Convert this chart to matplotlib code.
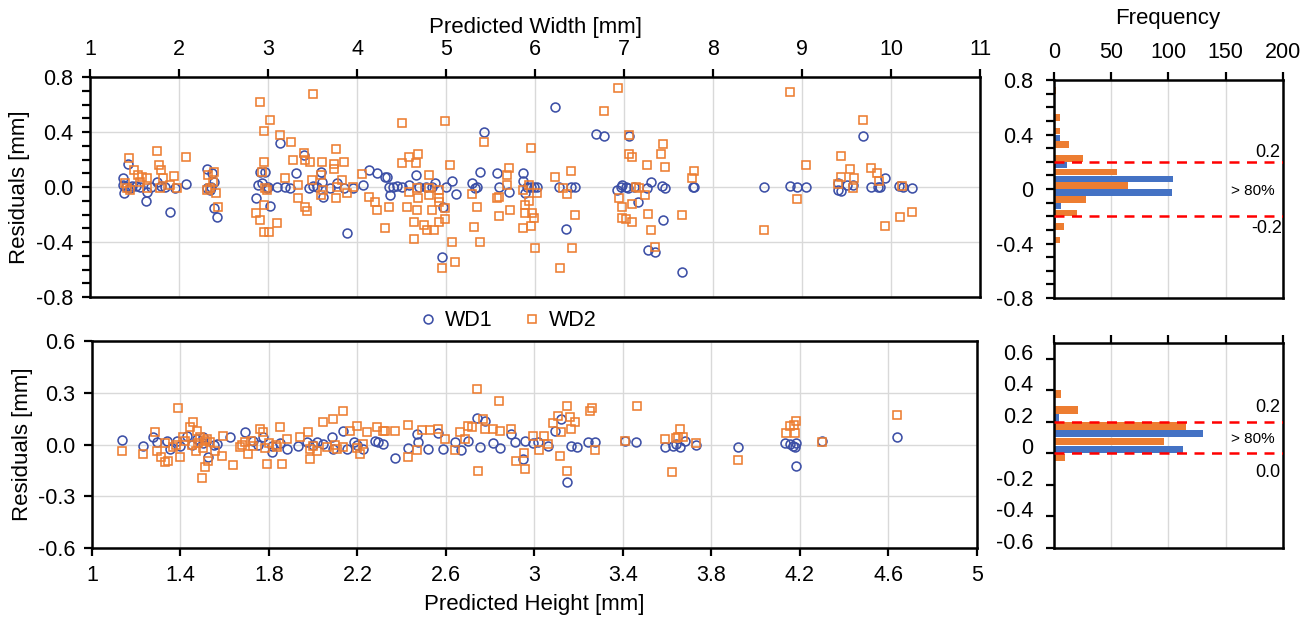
import matplotlib
matplotlib.use("Agg")
import matplotlib.pyplot as plt
from matplotlib.ticker import MultipleLocator
from matplotlib.lines import Line2D
import matplotlib.transforms as mtransforms

plt.rcParams["font.family"] = ["Liberation Sans", "DejaVu Sans"]

BLUE = "#3C4FA6"
ORANGE = "#ED7D31"
HBLUE = "#4472C4"
GRID = "#D9D9D9"

# ---- top panel: residual vs predicted width ----
wd1_w_x = [1.375, 1.386, 1.43, 1.375, 1.45, 1.63, 1.64, 1.56, 1.75, 1.9, 2.08, 1.84, 1.96,
           1.40, 1.47, 1.52, 1.68, 1.80,
           2.32, 2.37, 2.39, 2.31, 2.39, 2.43, 2.35, 2.36,
           3.14, 2.91, 2.97, 2.89, 2.93, 2.87, 3.02, 2.99, 3.1, 3.19, 3.0,
           3.25, 3.32, 3.4, 3.46, 3.59, 3.61, 3.62, 3.7, 3.77, 3.89, 3.85, 3.96, 3.5, 3.55,
           4.13, 4.07, 4.22, 4.32, 4.34, 4.36, 4.51, 4.66, 4.77, 4.88, 5.07, 5.11, 4.97, 4.96,
           4.37, 4.58, 4.84, 4.4, 4.45, 4.7, 5.0,
           5.43, 5.38, 5.29, 5.33, 5.35, 5.57, 5.59, 5.71, 5.86, 5.87, 5.91, 5.99, 6.02, 5.89, 5.95,
           6.23, 6.27, 6.4, 6.45, 6.35,
           6.68, 6.77, 7.06, 6.92, 6.98, 7.02, 7.16, 7.11, 7.26, 7.3, 7.43, 7.46, 7.44, 7.27,
           7.35, 7.65, 6.97, 7.05,
           7.77, 7.79, 8.57, 8.87, 8.94, 9.05, 9.4, 9.44, 9.51, 9.57, 9.69, 9.78, 9.85, 9.88,
           9.93, 10.09, 10.13, 10.24, 9.4]
wd1_w_y = [0.068, -0.046, 0.165, 0.015, -0.01, -0.10, -0.034, 0.0, 0.034, -0.184, 0.024, 0.0, -0.01,
           0.0, 0.01, 0.005, 0.0, 0.01,
           0.131, 0.10, 0.039, -0.01, -0.155, -0.216, -0.022, 0.0,
           0.32, 0.11, 0.11, 0.015, 0.027, -0.078, -0.138, -0.01, 0.0, 0.0, 0.0,
           -0.005, 0.10, 0.233, -0.01, 0.11, 0.039, -0.07, -0.01, 0.027, -0.337, -0.01, -0.005, 0.005, 0.0,
           0.124, 0.015, 0.10, 0.075, 0.075, 0.0, 0.0, 0.087, 0.0, 0.027, 0.044, -0.053, -0.143, -0.507,
           -0.058, 0.015, 0.0, 0.0, 0.01, 0.0, 0.0,
           0.40, 0.11, 0.027, -0.01, 0.0, 0.10, 0.0, -0.034, 0.104, 0.044, 0.0, 0.0, 0.0, -0.046, 0.0,
           0.58, 0.0, 0.0, 0.0, -0.305,
           0.383, 0.371, 0.371, -0.022, 0.015, 0.0, -0.11, 0.0, -0.01, 0.039, 0.007, -0.01, -0.24, -0.458,
           -0.47, -0.616, 0.0, -0.01,
           0.0, 0.0, 0.0, 0.007, 0.0, 0.0, -0.022, -0.027, 0.015, 0.015, 0.373, 0.0, 0.0, 0.0,
           0.063, 0.007, 0.0, -0.005, 0.027]

wd2_w_x = [1.435, 1.49, 1.54, 1.58, 1.64, 1.39, 1.41, 1.45, 1.75, 1.78, 1.8, 1.825, 1.94, 1.9,
           1.79, 1.975, 2.08, 1.64, 1.56,
           2.39, 2.33, 2.38, 2.31, 2.42, 2.44, 2.35,
           2.91, 3.02, 2.95, 3.14, 2.96, 2.93, 2.97, 2.99, 2.87, 2.91, 2.95, 2.96, 3.01, 3.1, 3.26, 3.51,
           3.19, 3.28, 3.4, 3.42, 3.47, 3.34, 3.34, 3.42, 3.44, 3.49, 3.59, 3.61, 3.62, 3.59,
           3.76, 3.74, 3.85, 3.74, 3.83, 3.77, 3.89, 3.76, 3.96, 4.06, 4.13, 4.2, 4.22, 4.36, 4.31,
           4.51, 4.985, 4.5, 4.58, 4.69, 4.66, 4.81, 4.56, 4.67, 4.64, 4.75, 4.79, 4.86, 4.92, 4.99,
           4.64, 4.96, 5.1, 5.07, 4.69, 4.81, 4.92, 4.92, 4.58, 4.67, 5.05, 4.81, 4.92, 4.99, 4.84,
           5.43, 5.35, 5.31, 5.38, 5.29, 5.57, 5.59, 5.72, 5.69, 5.71, 5.69, 5.59,
           5.95, 5.93, 5.86, 5.89, 5.89, 5.97, 5.96, 5.87, 6.0, 5.93, 6.02, 5.99,
           6.23, 6.4, 6.36, 6.45, 6.41, 6.28, 6.31,
           6.93, 6.77, 7.06, 7.06, 7.09, 7.13, 6.94, 6.98, 7.09, 6.98, 7.02, 7.09, 7.26, 7.44, 7.42,
           7.46, 7.27, 7.3, 7.35, 7.24, 7.65, 7.17, 7.79, 7.76,
           8.57, 8.87, 8.94, 9.05, 9.44, 9.54, 9.44, 9.58, 9.4, 9.57, 9.69, 9.78, 9.84, 9.87, 9.93,
           10.1, 10.24, 10.12]
wd2_w_y = [0.213, 0.124, 0.087, 0.075, 0.063, 0.027, -0.01, -0.022, 0.262, 0.16, 0.124, 0.063, 0.082, 0.015,
           -0.01, -0.01, 0.218, -0.01, 0.039,
           0.112, 0.087, 0.039, -0.022, -0.046, -0.143, -0.01,
           0.62, 0.49, 0.41, 0.378, 0.18, 0.11, -0.01, -0.022, -0.19, -0.24, -0.13, -0.325, -0.325, -0.264, 0.33, 0.68,
           0.063, 0.196, 0.245, 0.196, 0.184, 0.015, -0.08, -0.143, -0.175, 0.05, 0.087, 0.18, -0.022, -0.06,
           0.28, 0.17, 0.184, 0.13, 0.05, 0.0, -0.046, -0.08, 0.0, 0.092, -0.07, -0.107, -0.167, -0.143, -0.30,
           0.463, 0.48, 0.177, 0.22, 0.238, 0.177, 0.087, -0.143, -0.167, -0.252, -0.276, -0.313, -0.313, -0.252, -0.233,
           -0.378, -0.59, -0.548, -0.398, -0.082, -0.058, -0.082, -0.022, -0.034, -0.01, 0.16, -0.01, -0.107, -0.155, -0.167,
           0.325, -0.143, -0.293, -0.398, -0.05, -0.082, -0.208, -0.167, 0.087, 0.14, 0.015, -0.07,
           0.286, 0.015, -0.022, -0.13, -0.19, -0.19, -0.28, -0.30, -0.44, -0.10, -0.046, -0.228,
           0.075, 0.12, -0.053, -0.20, -0.44, -0.587, -0.01,
           0.722, 0.553, 0.378, 0.238, 0.22, 0.0, -0.082, -0.143, -0.126, -0.228, -0.233, -0.252, 0.16, 0.31, 0.238,
           0.148, -0.196, -0.313, -0.434, -0.058, -0.20, -0.01, 0.12, 0.068,
           -0.31, 0.693, -0.087, 0.16, 0.228, 0.13, 0.075, 0.068, 0.022, -0.01, 0.487, 0.136, 0.104, 0.044, -0.28,
           -0.216, -0.184, 0.007]

# ---- bottom panel: residual vs predicted height ----
wd1_h_x = [1.134, 1.232, 1.277, 1.292, 1.337, 1.383, 1.352, 1.428, 1.473, 1.503, 1.526, 1.563, 1.624,
           1.692, 1.729, 1.774, 1.812, 1.812, 1.88, 1.932, 1.97, 2.016, 2.046, 2.083, 2.091, 2.136,
           2.152, 2.182, 2.227, 2.28, 2.294, 2.317,
           1.45, 1.5, 1.4, 1.55, 1.75, 1.85, 2.0, 2.2,
           2.369, 2.43, 2.467, 2.475, 2.52, 2.565, 2.588, 2.64, 2.67, 2.7, 2.738, 2.753, 2.776,
           2.813, 2.844, 2.896, 2.911, 2.949, 2.957, 2.994, 3.017, 3.062, 3.092, 3.122, 3.145,
           3.167, 3.19, 3.243, 3.273, 3.408, 3.461, 3.589, 3.627, 3.657, 3.64,
           3.68, 3.73, 3.92, 4.134, 4.154, 4.169, 4.181, 4.184, 4.176, 4.3, 4.639]
wd1_h_y = [0.027, -0.006, 0.046, 0.014, 0.023, 0.023, -0.025, 0.052, 0.033, 0.043, -0.073, 0.004, 0.043,
           0.072, 0.023, 0.043, -0.006, -0.044, -0.025, -0.006, 0.014, 0.014, 0.004, 0.043, -0.025, 0.081,
           -0.025, 0.014, -0.025, 0.023, 0.014, 0.004,
           0.0, 0.01, -0.01, 0.0, 0.0, 0.01, 0.0, 0.0,
           -0.079, -0.019, 0.062, 0.014, -0.025, 0.066, -0.025, 0.014, -0.031, 0.023, 0.155, -0.012, 0.139,
           0.008, -0.019, 0.062, 0.014, -0.083, 0.023, 0.008, 0.014, -0.006, 0.081, 0.149, -0.219,
           -0.006, -0.012, 0.017, 0.014, 0.023, 0.014, -0.012, -0.006, -0.015, 0.004,
           0.019, 0.0, -0.012, 0.008, 0.004, -0.006, 0.008, -0.122, -0.012, 0.019, 0.043]

wd2_h_x = [1.137, 1.232, 1.284, 1.314, 1.329, 1.344, 1.389, 1.292, 1.367, 1.412, 1.397, 1.443, 1.458,
           1.473, 1.488, 1.51, 1.495, 1.51, 1.526, 1.533, 1.556, 1.586, 1.594, 1.639, 1.669, 1.692,
           1.707, 1.729, 1.759, 1.774, 1.789, 1.85, 1.858, 1.835, 1.88, 1.94, 1.978, 1.986, 2.016,
           2.046, 2.061, 2.091, 2.136, 2.167, 2.197, 2.212, 2.242, 2.287, 2.317, 2.136, 2.106, 2.227, 1.986,
           1.45, 1.48, 1.5, 1.42, 1.47, 1.52, 1.38, 1.33, 1.68, 1.72, 1.78, 1.8, 1.83, 2.0, 2.1, 2.2,
           2.324, 2.369, 2.43, 2.43, 2.47, 2.493, 2.527, 2.562, 2.595, 2.64, 2.663, 2.685, 2.7, 2.716,
           2.738, 2.746, 2.768, 2.776, 2.813, 2.84, 2.844, 2.896, 2.916, 2.954, 2.957, 2.991, 3.021,
           3.044, 3.062, 3.085, 3.107, 3.115, 3.122, 3.145, 3.149, 3.16, 3.167, 3.185, 3.25, 3.261,
           3.273, 3.408, 3.464, 3.589, 3.622, 3.649, 3.657, 3.639, 3.672, 3.732, 3.92, 4.139, 4.154,
           4.176, 4.184, 4.173, 4.3, 4.639]
wd2_h_y = [-0.039, -0.054, 0.072, -0.073, -0.103, -0.093, 0.21, -0.035, -0.015, 0.043, -0.073, 0.10, 0.13,
           0.081, 0.043, 0.023, -0.193, -0.131, -0.093, 0.014, -0.035, -0.064, 0.052, -0.118, -0.015, 0.014,
           -0.054, -0.006, 0.091, 0.072, -0.112, 0.10, -0.112, -0.015, 0.033, 0.043, 0.072, -0.083, -0.035,
           0.13, -0.015, 0.149, 0.193, 0.081, 0.11, -0.054, 0.072, 0.10, 0.081, -0.015, -0.025, 0.004, -0.025,
           0.0, 0.01, -0.02, 0.02, -0.04, 0.03, 0.0, 0.01, 0.0, 0.02, -0.02, 0.01, 0.0, -0.01, 0.0, -0.02,
           0.081, 0.081, 0.116, -0.07, -0.031, 0.085, 0.085, 0.091, 0.033, -0.031, 0.072, 0.033, 0.11, 0.10,
           0.323, -0.151, 0.149, 0.091, 0.091, 0.251, 0.081, 0.091, -0.093, -0.05, -0.141, 0.052, -0.031,
           0.052, 0.004, 0.124, 0.168, -0.064, 0.072, -0.151, 0.221, 0.159, 0.091, 0.13, 0.193, 0.213,
           -0.031, 0.023, 0.221, 0.033, -0.161, 0.043, 0.091, 0.039, 0.046, 0.008, -0.087, 0.066, 0.11,
           0.068, 0.139, 0.116, 0.014, 0.174]

# ---- histograms (frequency per residual bin) ----
top_bins = [0.7, 0.6, 0.5, 0.4, 0.3, 0.2, 0.1, 0.0, -0.1, -0.2, -0.3, -0.4, -0.5]
top_wd1 = [0, 0, 0, 5, 0, 11, 104, 103, 6, 2, 1, 1, 0]
top_wd2 = [2, 0, 5, 5, 13, 25, 55, 65, 28, 20, 9, 5, 1]

bot_bins = [0.35, 0.25, 0.15, 0.05, -0.05]
bot_wd1 = [0, 4, 130, 113, 0]
bot_wd2 = [6, 21, 115, 96, 10]

fig = plt.figure(figsize=(13.16, 6.17), dpi=100)
ax_w = fig.add_axes([0.0684, 0.5186, 0.6763, 0.3566])
ax_h = fig.add_axes([0.0699, 0.1118, 0.6725, 0.3355])
hx_w = fig.add_axes([0.8009, 0.5170, 0.1740, 0.3533])
hx_h = fig.add_axes([0.8009, 0.1118, 0.1740, 0.3323])

mk = dict(linestyle="none", markersize=6.4, markeredgewidth=1.15, markerfacecolor="none")
LBL = 16


def style(ax):
    for s in ax.spines.values():
        s.set_linewidth(1.8)
        s.set_color("black")
    ax.tick_params(which="both", direction="out", width=1.6, length=6, labelsize=15.5, pad=6)
    ax.grid(True, color=GRID, linewidth=1.0)
    ax.set_axisbelow(True)


# top scatter
style(ax_w)
ax_w.plot(wd1_w_x, wd1_w_y, marker="o", markeredgecolor=BLUE, **mk)
ax_w.plot(wd2_w_x, wd2_w_y, marker="s", markeredgecolor=ORANGE, **mk)
ax_w.set_xlim(1, 11)
ax_w.set_ylim(-0.8, 0.8)
ax_w.xaxis.set_major_locator(MultipleLocator(1))
ax_w.yaxis.set_minor_locator(MultipleLocator(0.1))
ax_w.xaxis.tick_top()
ax_w.set_yticks([0.8, 0.4, 0.0, -0.4, -0.8], ["0.8", "0.4", "0.0", "-0.4", "-0.8"])
ax_w.text(0.5, 1.227, "Predicted Width [mm]", transform=ax_w.transAxes,
          ha="center", va="center", fontsize=LBL)
ax_w.set_ylabel("Residuals [mm]", fontsize=LBL)
ax_w.yaxis.set_label_coords(-0.067, 0.5)

# bottom scatter
style(ax_h)
ax_h.plot(wd1_h_x, wd1_h_y, marker="o", markeredgecolor=BLUE, **mk)
ax_h.plot(wd2_h_x, wd2_h_y, marker="s", markeredgecolor=ORANGE, **mk)
ax_h.set_xlim(1, 5)
ax_h.set_ylim(-0.6, 0.6)
ax_h.set_xticks([1, 1.4, 1.8, 2.2, 2.6, 3, 3.4, 3.8, 4.2, 4.6, 5],
               ["1", "1.4", "1.8", "2.2", "2.6", "3", "3.4", "3.8", "4.2", "4.6", "5"])
ax_h.set_yticks([0.6, 0.3, 0.0, -0.3, -0.6], ["0.6", "0.3", "0.0", "-0.3", "-0.6"])
ax_h.text(0.5, -0.275, "Predicted Height [mm]", transform=ax_h.transAxes,
          ha="center", va="center", fontsize=LBL)
ax_h.set_ylabel("Residuals [mm]", fontsize=LBL)
ax_h.yaxis.set_label_coords(-0.067, 0.5)

# legend between the scatter panels
handles = [Line2D([], [], marker="o", markeredgecolor=BLUE, **mk),
           Line2D([], [], marker="s", markeredgecolor=ORANGE, **mk)]
fig.legend(handles, ["WD1", "WD2"], loc="center", bbox_to_anchor=(0.386, 0.480), ncol=2,
           frameon=False, fontsize=15.5, handlelength=0.8, handletextpad=0.4, columnspacing=1.4)

# histograms
bh = 0.048
off = 0.025


def hist_panel(ax, bins, wd1, wd2):
    style(ax)
    ax.grid(False)
    ax.xaxis.grid(True, color=GRID, linewidth=1.0)
    ax.barh([b - off for b in bins], wd1, height=bh, color=HBLUE, zorder=2)
    ax.barh([b + off for b in bins], wd2, height=bh, color=ORANGE, zorder=2)
    ax.set_xlim(0, 200)
    ax.xaxis.set_major_locator(MultipleLocator(50))
    ax.xaxis.tick_top()


hist_panel(hx_w, top_bins, top_wd1, top_wd2)
hx_w.set_ylim(-0.8, 0.8)
hx_w.set_yticks([0.8, 0.4, 0.0, -0.4, -0.8], ["0.8", "0.4", "0", "-0.4", "-0.8"])
hx_w.yaxis.set_minor_locator(MultipleLocator(0.1))
hx_w.tick_params(axis="y", pad=9)
hx_w.text(0.498, 1.284, "Frequency", transform=hx_w.transAxes, ha="center", va="center", fontsize=LBL)
for yv in (0.2, -0.2):
    hx_w.axhline(yv, color="#FF0000", linestyle=(0, (4, 3)), linewidth=1.8, zorder=3)
hx_w.text(198, 0.265, "0.2", ha="right", va="center", fontsize=13)
hx_w.text(193, -0.015, "> 80%", ha="right", va="center", fontsize=11)
hx_w.text(199, -0.29, "-0.2", ha="right", va="center", fontsize=13)

hist_panel(hx_h, bot_bins, bot_wd1, bot_wd2)
hx_h.set_ylim(-0.6, 0.7)
hx_h.set_yticks([0.6, 0.4, 0.2, 0.0, -0.2, -0.4, -0.6],
                ["0.6", "0.4", "0.2", "0", "-0.2", "-0.4", "-0.6"])
hx_h.tick_params(axis="x", labeltop=False)
hx_h.tick_params(axis="y", pad=9)
for yv in (0.2, 0.0):
    hx_h.axhline(yv, color="#FF0000", linestyle=(0, (4, 3)), linewidth=1.8, zorder=3)
hx_h.text(198, 0.294, "0.2", ha="right", va="center", fontsize=13)
hx_h.text(193, 0.091, "> 80%", ha="right", va="center", fontsize=11)
hx_h.text(198, -0.118, "0.0", ha="right", va="center", fontsize=13)
# labels of this panel sit a little above their ticks in the original
shift = mtransforms.ScaledTranslation(0, 0.07, fig.dpi_scale_trans)
for t in hx_h.yaxis.get_major_ticks():
    t.label1.set_transform(t.label1.get_transform() + shift)

fig.savefig("out.png", dpi=100)
